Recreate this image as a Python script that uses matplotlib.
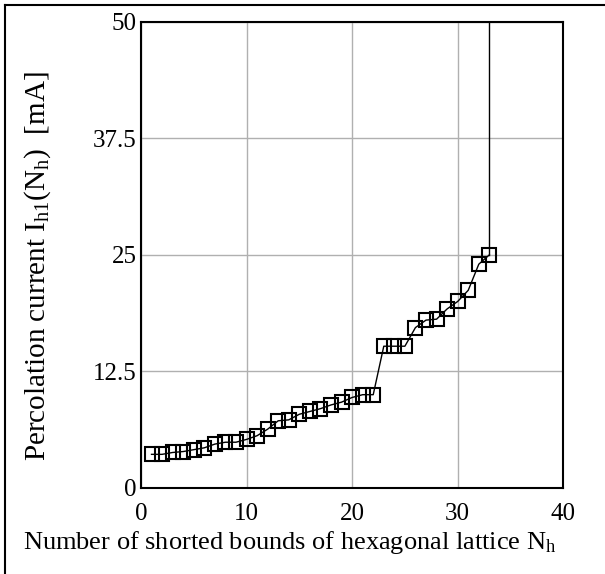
import matplotlib
matplotlib.use("Agg")
import matplotlib.pyplot as plt
from matplotlib.lines import Line2D

plt.rcParams['font.family'] = ['Liberation Serif', 'DejaVu Serif']

n_bonds = list(range(1, 34))
current = [3.6, 3.6, 3.8, 3.9, 4.1, 4.3, 4.7, 4.9, 4.9, 5.2,
           5.6, 6.3, 7.2, 7.3, 7.9, 8.2, 8.5, 8.9, 9.2, 9.7,
           10.0, 10.0, 15.2, 15.2, 15.2, 17.2, 18.0, 18.1, 19.2, 20.0,
           21.2, 24.0, 25.0]
jump_x = [33, 33]
jump_y = [25.0, 50.0]

x_ticks = [0, 10, 20, 30, 40]
y_ticks = [0, 12.5, 25, 37.5, 50]
y_tick_labels = ['0', '12.5', '25', '37.5', '50']

fig = plt.figure(figsize=(6.05, 5.74), dpi=100)
ax = fig.add_axes([0.233, 0.150, 0.698, 0.812])

ax.plot(n_bonds, current, color='black', lw=1.0, marker='s', markersize=9.5,
        markerfacecolor='none', markeredgecolor='black', markeredgewidth=1.5,
        clip_on=False, zorder=3)
ax.plot(jump_x, jump_y, color='black', lw=1.0, zorder=3)

ax.set_xlim(0, 40)
ax.set_ylim(0, 50)
ax.set_xticks(x_ticks)
ax.set_yticks(y_ticks)
ax.set_yticklabels(y_tick_labels)
ax.tick_params(length=0, labelsize=18)
ax.tick_params(axis='x', pad=11)
ax.tick_params(axis='y', pad=3)
ax.grid(True, color='#b0b0b0', lw=1.0)
ax.set_axisbelow(True)
for s in ax.spines.values():
    s.set_linewidth(1.5)
    s.set_color('black')

ax.set_xlabel('Number of shorted bounds of hexagonal lattice $\\mathregular{N_h}$',
              fontsize=19)
ax.xaxis.set_label_coords(0.479, 0.078, transform=fig.transFigure)
ax.set_ylabel('Percolation current $\\mathregular{I_{h1}(N_h)}$  [mA]',
              fontsize=21)
ax.yaxis.set_label_coords(0.088, 0.537, transform=fig.transFigure)

fig.add_artist(Line2D([5/605, 5/605], [0, 1 - 5/574], transform=fig.transFigure,
                      color='black', lw=1.5))
fig.add_artist(Line2D([5/605, 1], [1 - 5/574, 1 - 5/574], transform=fig.transFigure,
                      color='black', lw=1.5))

fig.savefig('out.png', dpi=100)
